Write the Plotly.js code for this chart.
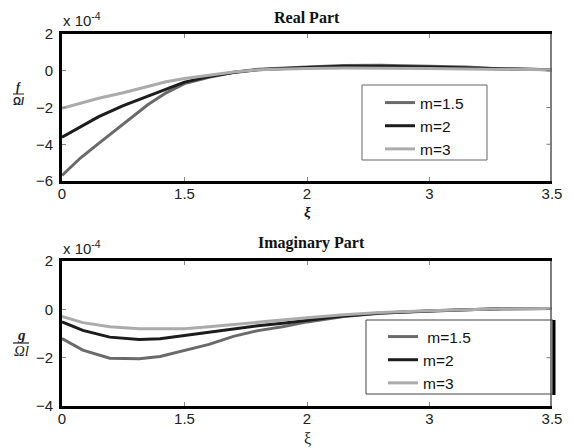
<!DOCTYPE html>
<html><head><meta charset="utf-8">
<script src="https://cdn.plot.ly/plotly-3.0.1.min.js"></script>
<style>html,body{margin:0;padding:0;background:#fff}</style>
</head><body>
<div id="chart" style="width:573px;height:448px"></div>
<script>
// x positions on the (evenly spaced) axis, tick labels as printed
const xTickPos = [0, 1, 2, 3, 4];
const xTickLabels = ['0', '1.5', '2', '3', '3.5'];

// Real part (x 1e-4)
const xReal = [0, 0.15, 0.3, 0.5, 0.7, 0.85, 1.0, 1.2, 1.4, 1.6, 1.8, 2.0, 2.3, 2.6, 3.0, 3.3, 3.6, 4.0];
const realM15 = [-5.7, -4.75, -3.95, -2.9, -1.85, -1.2, -0.7, -0.35, -0.08, 0.08, 0.15, 0.2, 0.28, 0.3, 0.25, 0.2, 0.1, 0.05];
const realM2  = [-3.62, -3.05, -2.5, -1.9, -1.4, -1.0, -0.62, -0.32, -0.1, 0.05, 0.12, 0.18, 0.25, 0.25, 0.2, 0.15, 0.1, 0.05];
const realM3  = [-2.04, -1.75, -1.5, -1.2, -0.85, -0.6, -0.42, -0.25, -0.07, 0.05, 0.1, 0.12, 0.15, 0.15, 0.12, 0.1, 0.08, 0.05];

// Imaginary part (x 1e-4)
const xImag = [0, 0.17, 0.39, 0.63, 0.8, 1.0, 1.2, 1.4, 1.6, 1.8, 2.0, 2.3, 2.6, 3.0, 3.3, 3.6, 4.0];
const imagM15 = [-1.21, -1.69, -2.02, -2.04, -1.95, -1.7, -1.45, -1.12, -0.88, -0.72, -0.52, -0.3, -0.16, -0.06, -0.02, 0.02, 0.03];
const imagM2  = [-0.52, -0.87, -1.15, -1.25, -1.22, -1.08, -0.95, -0.8, -0.68, -0.58, -0.45, -0.28, -0.15, -0.06, -0.02, 0.02, 0.03];
const imagM3  = [-0.29, -0.55, -0.72, -0.8, -0.8, -0.8, -0.72, -0.62, -0.52, -0.43, -0.35, -0.22, -0.13, -0.06, -0.02, 0.02, 0.03];

const seriesNames = ['m=1.5', 'm=2', 'm=3'];
const seriesNames2 = [' m=1.5', 'm=2', 'm=3'];
const colors = ['#6a6a6a', '#1c1c1c', '#ababab'];

const realTicks = [2, 0, -2, -4, -6];
const imagTicks = [2, 0, -2, -4];

const W = 573, H = 448, ML = 62, MR = 21;
const PW = W - ML - MR;
const px = v => (v - ML) / PW;
const py = v => 1 - v / H;

const traces = [];
[realM15, realM2, realM3].forEach((ys, i) => traces.push({
  x: xReal, y: ys, type: 'scatter', mode: 'lines', name: seriesNames[i],
  line: {color: colors[i], width: 3}, xaxis: 'x', yaxis: 'y', legend: 'legend'
}));
[imagM15, imagM2, imagM3].forEach((ys, i) => traces.push({
  x: xImag, y: ys, type: 'scatter', mode: 'lines', name: seriesNames2[i],
  line: {color: colors[i], width: 3}, xaxis: 'x2', yaxis: 'y2', legend: 'legend2'
}));

const tickFont = {family: 'Liberation Sans, Arial, sans-serif', size: 15, color: '#222'};
function xax(anchor) {
  return {anchor: anchor, domain: [0, 1], range: [0, 4], tickvals: xTickPos, ticktext: xTickLabels,
    showline: true, linewidth: 3, linecolor: '#000', mirror: 'ticks',
    ticks: 'inside', ticklen: 4, tickwidth: 1, tickcolor: '#888',
    showgrid: false, zeroline: false, tickfont: tickFont, ticklabelstandoff: -3};
}
function yax(anchor, dom, range, vals) {
  return {anchor: anchor, domain: dom, range: range, tickvals: vals,
    showline: true, linewidth: 3, linecolor: '#000', mirror: false,
    ticks: 'inside', ticklen: 4, tickwidth: 1, tickcolor: '#888',
    showgrid: false, zeroline: false, tickfont: tickFont, ticklabelstandoff: 3};
}

const topDom = [py(181), py(34)];
const botDom = [py(406), py(261)];

const legFont = {family: 'Liberation Sans, Arial, sans-serif', size: 15.5, color: '#111'};
const serif = 'Liberation Serif, Times New Roman, serif';
const sans = 'Liberation Sans, Arial, sans-serif';
function ann(text, x, y, font, xa) {
  return {text: text, xref: 'paper', yref: 'paper', x: px(x), y: py(y), showarrow: false,
    xanchor: xa || 'center', yanchor: 'middle', font: font};
}

const shapes = [
  {type: 'rect', xref: 'paper', yref: 'paper', x0: px(362), x1: px(487), y0: py(160), y1: py(85),
    line: {color: '#666', width: 1}, fillcolor: 'rgba(0,0,0,0)'},
  {type: 'rect', xref: 'paper', yref: 'paper', x0: px(366), x1: px(553), y0: py(394), y1: py(320),
    line: {color: '#444', width: 1}, fillcolor: 'rgba(0,0,0,0)'},
  {type: 'line', xref: 'paper', yref: 'paper', x0: px(554), x1: px(554), y0: py(395), y1: py(320),
    line: {color: '#000', width: 3}},
  {type: 'line', xref: 'paper', yref: 'paper', x0: px(13), x1: px(24), y0: py(94), y1: py(94),
    line: {color: '#222', width: 1}},
  {type: 'line', xref: 'paper', yref: 'paper', x0: px(13), x1: px(29), y0: py(343), y1: py(343),
    line: {color: '#222', width: 1.2}},
  // thin right-hand frame edges
  {type: 'line', xref: 'paper', yref: 'paper', x0: px(551), x1: px(551), y0: py(181), y1: py(34),
    line: {color: '#555', width: 1.5}},
  {type: 'line', xref: 'paper', yref: 'paper', x0: px(551), x1: px(551), y0: py(406), y1: py(261),
    line: {color: '#555', width: 1.5}}
];
// right-hand inside ticks mirroring the left tick values
realTicks.slice(1, -1).forEach(v => shapes.push({type: 'line', xref: 'paper', yref: 'y',
  x0: px(546.5), x1: px(551), y0: v, y1: v, line: {color: '#777', width: 1}}));
imagTicks.slice(1, -1).forEach(v => shapes.push({type: 'line', xref: 'paper', yref: 'y2',
  x0: px(546.5), x1: px(551), y0: v, y1: v, line: {color: '#777', width: 1}}));

const layout = {
  width: W, height: H,
  margin: {l: ML, r: MR, t: 0, b: 0},
  paper_bgcolor: '#fff', plot_bgcolor: '#fff',
  showlegend: true,
  xaxis: xax('y'),
  yaxis: yax('x', topDom, [-6, 2], realTicks),
  xaxis2: xax('y2'),
  yaxis2: yax('x2', botDom, [-4, 2], imagTicks),
  legend: {x: px(380), y: py(86), xanchor: 'left', yanchor: 'top',
    bgcolor: 'rgba(0,0,0,0)', borderwidth: 0, font: legFont, tracegroupgap: 0},
  legend2: {x: px(383), y: py(320), xanchor: 'left', yanchor: 'top',
    bgcolor: 'rgba(0,0,0,0)', borderwidth: 0, font: legFont, tracegroupgap: 0},
  shapes: shapes,
  annotations: [
    ann('<b>Real Part</b>', 307, 17, {family: serif, size: 16, color: '#111'}),
    ann('<b>Imaginary Part</b>', 311, 243, {family: serif, size: 16, color: '#111'}),
    ann('x 10<sup>-4</sup>', 61, 20, {family: sans, size: 15, color: '#222'}, 'left'),
    ann('x 10<sup>-4</sup>', 61, 247, {family: sans, size: 15, color: '#222'}, 'left'),
    ann('<b><i>ξ</i></b>', 307, 212, {family: serif, size: 15, color: '#111'}),
    ann('ξ', 307, 438, {family: serif, size: 16, color: '#222'}),
    ann('<b><i>f</i></b>', 18.5, 87, {family: serif, size: 12, color: '#222'}),
    ann('<b>Ω<i>l</i></b>', 18.5, 101, {family: sans, size: 10, color: '#222'}),
    ann('<b><i>g</i></b>', 21, 335, {family: serif, size: 15, color: '#222'}),
    ann('<i>Ωl</i>', 21, 351, {family: serif, size: 15, color: '#222'})
  ]
};

Plotly.newPlot('chart', traces, layout, {displayModeBar: false, staticPlot: true});
</script>
</body></html>
